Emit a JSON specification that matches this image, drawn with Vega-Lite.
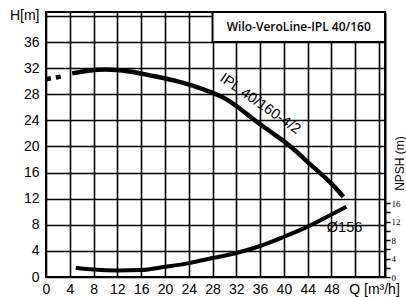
{
  "$schema": "https://vega.github.io/schema/vega-lite/v6.json",
  "autosize": "none",
  "width": 339,
  "height": 265,
  "padding": {"left": 46, "top": 12, "right": 21, "bottom": 20},
  "background": "white",
  "config": {
    "view": {"stroke": "black", "strokeWidth": 2},
    "font": "Liberation Sans"
  },
  "datasets": {
    "pump": [
      {"q": 4.4, "h": 31.2},
      {"q": 7, "h": 31.6},
      {"q": 10, "h": 31.8},
      {"q": 14, "h": 31.5},
      {"q": 18, "h": 30.8},
      {"q": 22, "h": 30.0},
      {"q": 26, "h": 28.9},
      {"q": 30, "h": 27.4},
      {"q": 32, "h": 26.2},
      {"q": 34, "h": 24.8},
      {"q": 36, "h": 23.4},
      {"q": 38, "h": 22.1},
      {"q": 40, "h": 20.8},
      {"q": 42, "h": 19.3},
      {"q": 44, "h": 17.6},
      {"q": 46, "h": 16.0},
      {"q": 48, "h": 14.3},
      {"q": 50, "h": 12.3}
    ],
    "dotted": [
      {"q": 0, "h": 30.3},
      {"q": 1.2, "h": 30.5},
      {"q": 2.5, "h": 30.7}
    ],
    "npsh": [
      {"q": 5, "n": 2.0},
      {"q": 8, "n": 1.6},
      {"q": 12, "n": 1.4},
      {"q": 16, "n": 1.5},
      {"q": 20, "n": 2.2},
      {"q": 24, "n": 3.0},
      {"q": 28, "n": 4.1},
      {"q": 32, "n": 5.2},
      {"q": 36, "n": 6.7},
      {"q": 40, "n": 8.7},
      {"q": 44, "n": 10.9},
      {"q": 48, "n": 13.5},
      {"q": 50.5, "n": 15.2}
    ],
    "box": [
      {"q": 28, "q2": 57, "h": 36, "h2": 40.6}
    ],
    "labels": [
      {"q": 36.0, "h": 26.5, "text": "IPL 40/160-4/2", "angle": 35},
      {"q": 50.2, "h": 7.5, "text": "Ø156", "angle": 0}
    ],
    "title": [
      {"q": 42.5, "h": 38.3, "text": "Wilo-VeroLine-IPL 40/160"}
    ]
  },
  "encoding": {
    "x": {
      "field": "q", "type": "quantitative",
      "scale": {"domain": [0, 57], "nice": false, "zero": false},
      "axis": {
        "title": null,
        "values": [0, 4, 8, 12, 16, 20, 24, 28, 32, 36, 40, 44, 48, 50.9, 52, 56],
        "labelExpr": "datum.value == 50.9 ? 'Q [m³/h]' : (datum.value <= 48 ? datum.label : '')",
        "labelAlign": {"condition": {"test": "datum.value == 50.9", "value": "left"}, "value": "center"},
        "labelFontSize": 14,
        "labelColor": "black",
        "labelPadding": 5,
        "labelOverlap": false,
        "labelFlush": false,
        "ticks": false,
        "domain": false,
        "grid": true,
        "gridColor": {"condition": {"test": "datum.value == 50.9", "value": "transparent"}, "value": "black"},
        "gridOpacity": 1,
        "gridWidth": 1.6
      }
    }
  },
  "layer": [
    {
      "encoding": {
        "y": {
          "field": "h", "type": "quantitative",
          "scale": {"domain": [0, 40.6], "nice": false, "zero": false},
          "axis": {
            "title": null,
            "values": [0, 4, 8, 12, 16, 20, 24, 28, 32, 36, 40],
            "labelExpr": "datum.value == 40 ? 'H[m]' : datum.label",
            "labelFontSize": 14,
            "labelColor": "black",
            "labelPadding": 7,
            "labelOverlap": false,
            "labelFlush": false,
            "ticks": false,
            "domain": false,
            "grid": true,
            "gridColor": "black",
            "gridOpacity": 1,
            "gridWidth": 1.6
          }
        }
      },
      "layer": [
        {
          "data": {"name": "pump"},
          "mark": {"type": "line", "color": "black", "strokeWidth": 4.5, "interpolate": "monotone", "strokeCap": "butt"}
        },
        {
          "data": {"name": "dotted"},
          "mark": {"type": "line", "color": "black", "strokeWidth": 4.5, "strokeDash": [5, 5], "strokeCap": "butt"}
        },
        {
          "data": {"name": "box"},
          "mark": {"type": "rect", "fill": "white", "stroke": "black", "strokeWidth": 2},
          "encoding": {
            "x2": {"field": "q2"},
            "y2": {"field": "h2"}
          }
        },
        {
          "data": {"name": "labels"},
          "mark": {"type": "text", "color": "black", "align": "center", "baseline": "middle", "font": "Liberation Sans", "fontSize": 14.5},
          "encoding": {
            "text": {"field": "text"},
            "angle": {"field": "angle", "type": "quantitative", "scale": null}
          }
        },
        {
          "data": {"name": "title"},
          "mark": {"type": "text", "color": "black", "align": "center", "baseline": "middle", "font": "Open Sans", "fontSize": 12, "fontWeight": 600},
          "encoding": {
            "text": {"field": "text"}
          }
        }
      ]
    },
    {
      "data": {"name": "npsh"},
      "mark": {"type": "line", "color": "black", "strokeWidth": 4, "interpolate": "monotone", "strokeCap": "butt"},
      "encoding": {
        "y": {
          "field": "n", "type": "quantitative",
          "scale": {"domain": [0, 57.3], "nice": false, "zero": false},
          "axis": {
            "orient": "right",
            "title": "NPSH (m)",
            "titleFontSize": 12,
            "titleFontWeight": "normal",
            "titleColor": "black",
            "titleAngle": 270,
            "titleAlign": "center",
            "titleBaseline": "middle",
            "titleX": 14,
            "titleY": 151,
            "values": [0, 2, 4, 6, 8, 10, 12, 14, 16],
            "labelExpr": "datum.value % 4 == 0 ? datum.label : ''",
            "labelFont": "Liberation Serif",
            "labelFontSize": 9,
            "labelColor": "black",
            "labelPadding": 1,
            "labelOverlap": false,
            "labelFlush": false,
            "tickColor": "black",
            "tickSize": 5,
            "tickWidth": 1.5,
            "domainColor": "black",
            "domainWidth": 2,
            "grid": false
          }
        }
      }
    }
  ],
  "resolve": {"scale": {"y": "independent"}}
}
